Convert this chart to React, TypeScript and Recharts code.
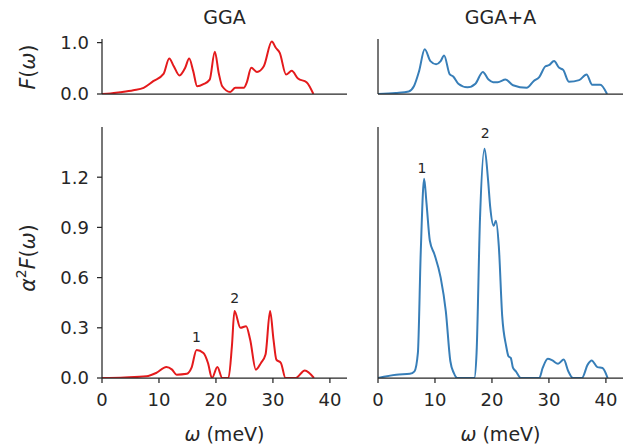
import React from "react";
import { LineChart, Line, XAxis, YAxis, ReferenceDot } from "recharts";

const omegaTicks = [0, 10, 20, 30, 40];
const dosTicks = [0, 1.0];
const a2fTicks = [0, 0.3, 0.6, 0.9, 1.2];

// phonon DOS, GGA
const ggaDosW = [0, 1.5, 3.2, 5.5, 7.3, 9.0, 10.8, 11.8, 12.6, 13.6, 14.6, 15.3, 16.0, 16.7, 17.8, 18.9, 19.8, 20.5, 21.1, 22.5, 23.4, 24.9, 25.4, 26.2, 27.2, 28.4, 29.8, 30.5, 31.2, 32.3, 33.3, 34.4, 35.9, 37.1];
const ggaDosF = [0, 0.01, 0.035, 0.075, 0.12, 0.25, 0.39, 0.69, 0.54, 0.36, 0.51, 0.69, 0.45, 0.15, 0.19, 0.28, 0.82, 0.4, 0.15, 0.04, 0.12, 0.12, 0.22, 0.51, 0.43, 0.54, 1.02, 0.9, 0.8, 0.38, 0.45, 0.3, 0.23, 0];

// phonon DOS, GGA+A
const ggaaDosW = [0, 3.1, 5.4, 6.3, 7.2, 8.2, 9.2, 10.2, 11.0, 11.6, 12.6, 13.2, 14.1, 15.7, 17.1, 18.4, 19.4, 20.2, 21.0, 22.4, 23.7, 26.1, 27.3, 28.3, 29.4, 30.0, 30.9, 31.8, 32.5, 33.5, 35.3, 36.6, 37.6, 39.0, 40.2];
const ggaaDosF = [0, 0.02, 0.05, 0.15, 0.44, 0.87, 0.64, 0.58, 0.64, 0.75, 0.38, 0.34, 0.2, 0.13, 0.2, 0.43, 0.28, 0.23, 0.23, 0.28, 0.17, 0.12, 0.25, 0.33, 0.54, 0.56, 0.64, 0.51, 0.47, 0.24, 0.27, 0.38, 0.18, 0.18, 0];

// Eliashberg function, GGA
const ggaA2fW = [0, 4, 7.8, 9.5, 11.3, 12.3, 13.1, 14.9, 15.7, 16.6, 17.8, 18.6, 19.3, 20.25, 21.1, 22.2, 22.8, 23.25, 24.3, 25.3, 26.0, 27.0, 27.9, 28.7, 29.5, 30.1, 30.6, 31.4, 32.2, 34.0, 35.6, 37.2];
const ggaA2fV = [0, 0.003, 0.01, 0.03, 0.066, 0.05, 0.02, 0.025, 0.06, 0.168, 0.15, 0.09, 0, 0.066, 0, 0, 0.19, 0.4, 0.3, 0.31, 0.23, 0.05, 0.09, 0.14, 0.4, 0.23, 0.11, 0.09, 0, 0, 0.045, 0];

// Eliashberg function, GGA+A
const ggaaA2fW = [0, 3.2, 5.6, 6.4, 7.0, 7.5, 8.1, 8.5, 9.1, 9.9, 11.0, 11.9, 12.7, 13.3, 13.9, 16.9, 17.3, 17.9, 18.7, 19.3, 19.7, 20.3, 20.7, 21.2, 21.8, 22.5, 22.9, 23.3, 23.7, 24.2, 25.1, 28.3, 28.9, 29.8, 30.6, 31.6, 32.6, 33.4, 34.2, 35.8, 36.8, 37.5, 38.5, 39.4, 40.3];
const ggaaA2fV = [0, 0.02, 0.025, 0.04, 0.15, 0.75, 1.19, 1.05, 0.82, 0.74, 0.6, 0.4, 0.1, 0.03, 0, 0, 0.15, 0.95, 1.37, 1.19, 1.02, 0.91, 0.94, 0.79, 0.37, 0.19, 0.13, 0.12, 0.06, 0.04, 0, 0, 0.06, 0.115, 0.105, 0.085, 0.11, 0.04, 0, 0, 0.08, 0.105, 0.065, 0.06, 0];

const ggaNotes = [
  { label: "1", w: 16.6, v: 0.245 },
  { label: "2", w: 23.3, v: 0.475 },
];
const ggaaNotes = [
  { label: "1", w: 7.7, v: 1.255 },
  { label: "2", w: 18.8, v: 1.465 },
];

const RED = "#e41a1c";
const BLUE = "#377eb8";
const INK = "#262626";

const zip = (w: number[], v: number[]) => w.map((x, i) => ({ w: x, v: v[i] }));

type Note = { label: string; w: number; v: number };

type PanelProps = {
  data: { w: number; v: number }[];
  color: string;
  width: number;
  height: number;
  margin: { top: number; right: number; bottom: number; left: number };
  xAxisHeight: number;
  yTicks: number[];
  yDomain: [number, number];
  yLabels: boolean;
  xLabels: boolean;
  notes?: Note[];
};

const Panel = (p: PanelProps) => (
  <LineChart width={p.width} height={p.height} data={p.data} margin={p.margin}>
    <XAxis
      dataKey="w"
      type="number"
      domain={[0, 43]}
      ticks={omegaTicks}
      interval={0}
      allowDataOverflow
      height={p.xAxisHeight}
      tickSize={5}
      tickMargin={10}
      axisLine={{ stroke: INK, strokeWidth: 1.25 }}
      tickLine={{ stroke: INK, strokeWidth: 1.25 }}
      tick={p.xLabels ? { fill: INK, fontSize: 18 } : false}
    />
    <YAxis
      type="number"
      domain={p.yDomain}
      ticks={p.yTicks}
      interval={0}
      allowDataOverflow
      width={60}
      tickSize={5}
      tickMargin={8}
      axisLine={{ stroke: INK, strokeWidth: 1.25 }}
      tickLine={{ stroke: INK, strokeWidth: 1.25 }}
      tick={p.yLabels ? { fill: INK, fontSize: 18 } : false}
      tickFormatter={(t: number) => t.toFixed(1)}
    />
    <Line
      dataKey="v"
      type="monotone"
      stroke={p.color}
      strokeWidth={2}
      dot={false}
      isAnimationActive={false}
    />
    {(p.notes || []).map((n) => (
      <ReferenceDot
        key={n.label}
        x={n.w}
        y={n.v}
        r={0}
        stroke="none"
        label={{ value: n.label, position: "center", fill: INK, fontSize: 14 }}
      />
    ))}
  </LineChart>
);

const abs = (left: number, top: number): React.CSSProperties => ({
  position: "absolute",
  left,
  top,
});

const YLabel = ({ cx, cy, children }: { cx: number; cy: number; children: React.ReactNode }) => (
  <div
    style={{
      position: "absolute",
      left: cx - 70,
      top: cy - 12,
      width: 140,
      height: 24,
      lineHeight: "24px",
      textAlign: "center",
      fontSize: 20.5,
      transform: "rotate(-90deg)",
      whiteSpace: "nowrap",
    }}
  >
    {children}
  </div>
);

const CenterText = ({ cx, top, size, children }: { cx: number; top: number; size: number; children: React.ReactNode }) => (
  <div
    style={{
      position: "absolute",
      left: cx - 100,
      top,
      width: 200,
      lineHeight: `${size}px`,
      fontSize: size,
      textAlign: "center",
      whiteSpace: "nowrap",
    }}
  >
    {children}
  </div>
);

const OmegaLabel = () => (
  <span>
    <i>ω</i> (meV)
  </span>
);

export default function App() {
  const topMargin = { top: 39, right: 13, bottom: 0, left: 42 };
  const topMarginR = { top: 39, right: 5, bottom: 0, left: 0 };
  const botMargin = { top: 17, right: 13, bottom: 0, left: 42 };
  const botMarginR = { top: 17, right: 5, bottom: 0, left: 0 };
  return (
    <div
      style={{
        position: "absolute",
        left: 0,
        top: 0,
        width: 628,
        height: 447,
        background: "#fff",
        color: INK,
        fontFamily: "'DejaVu Sans', sans-serif",
        overflow: "hidden",
      }}
    >
      <div style={abs(0, 0)}>
        <Panel data={zip(ggaDosW, ggaDosF)} color={RED} width={360} height={110} margin={topMargin} xAxisHeight={16} yTicks={dosTicks} yDomain={[0, 1.07]} yLabels xLabels={false} />
      </div>
      <div style={abs(318, 0)}>
        <Panel data={zip(ggaaDosW, ggaaDosF)} color={BLUE} width={310} height={110} margin={topMarginR} xAxisHeight={16} yTicks={dosTicks} yDomain={[0, 1.07]} yLabels={false} xLabels={false} />
      </div>
      <div style={abs(0, 110)}>
        <Panel data={zip(ggaA2fW, ggaA2fV)} color={RED} width={360} height={337} margin={botMargin} xAxisHeight={69} yTicks={a2fTicks} yDomain={[0, 1.5]} yLabels xLabels notes={ggaNotes} />
      </div>
      <div style={abs(318, 110)}>
        <Panel data={zip(ggaaA2fW, ggaaA2fV)} color={BLUE} width={310} height={337} margin={botMarginR} xAxisHeight={69} yTicks={a2fTicks} yDomain={[0, 1.5]} yLabels={false} xLabels notes={ggaaNotes} />
      </div>

      <CenterText cx={224.5} top={8} size={19}>GGA</CenterText>
      <CenterText cx={500.5} top={8} size={19}>GGA+A</CenterText>
      <CenterText cx={224.5} top={425} size={19}><OmegaLabel /></CenterText>
      <CenterText cx={500.5} top={425} size={19}><OmegaLabel /></CenterText>

      <YLabel cx={28} cy={67}>
        <i>F</i>(<i>ω</i>)
      </YLabel>
      <YLabel cx={28} cy={258}>
        <i>α</i>
        <span style={{ fontSize: 14, position: "relative", top: -9 }}>2</span>
        <i>F</i>(<i>ω</i>)
      </YLabel>
    </div>
  );
}
